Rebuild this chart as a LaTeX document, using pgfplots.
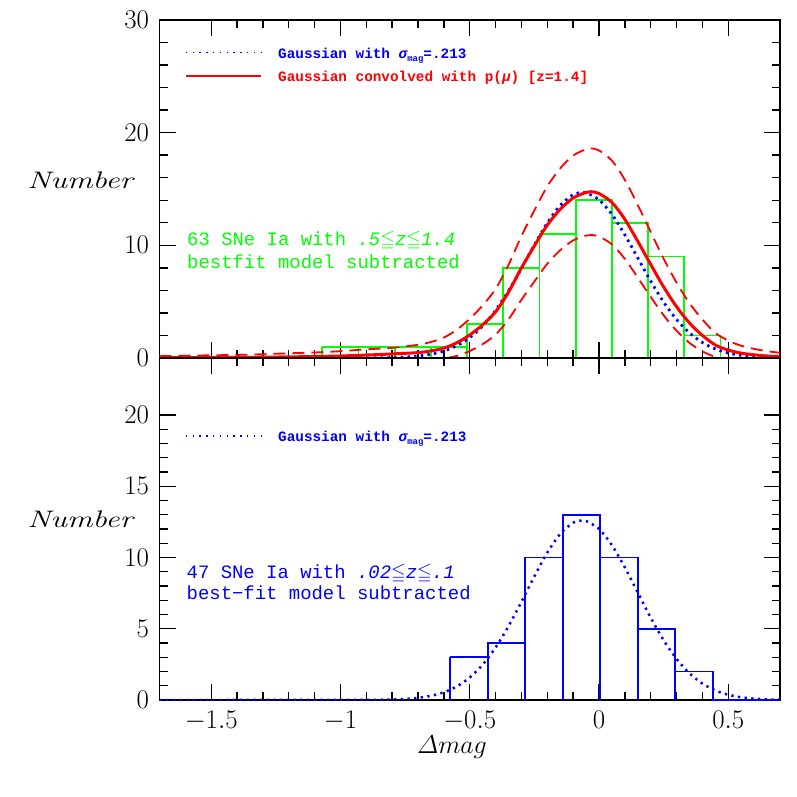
\RequirePackage{fix-cm}
\documentclass[border=0pt]{standalone}
\usepackage{amssymb}
\usepackage{graphicx}
\usepackage{fontspec}
\usepackage{pgfplots}
\pgfplotsset{compat=1.18}
\newfontfamily\smfont{Liberation Mono}
\definecolor{sgreen}{RGB}{0,255,0}
\definecolor{sblue}{RGB}{0,0,255}
\definecolor{sred}{RGB}{255,0,0}

% histogram bins: left edge, count (last row = right edge)
\pgfplotstableread{
x y
-1.07 1
-0.93 1
-0.79 1
-0.65 1
-0.51 3
-0.37 8
-0.23 11
-0.09 14
0.05 12
0.19 9
0.33 2
0.47 0
0.61 0
}\tophist
% bin edges with the taller neighbouring count
\pgfplotstableread{
x y
-1.07 1
-0.93 1
-0.79 1
-0.65 1
-0.51 3
-0.37 8
-0.23 11
-0.09 14
0.05 14
0.19 12
0.33 9
0.47 2
}\topedges

\pgfplotstableread{
x y
-0.575 3
-0.43 4
-0.285 10
-0.14 13
0.005 10
0.15 5
0.295 2
0.44 0
0.70 0
}\bothist
\pgfplotstableread{
x y
-0.575 3
-0.43 4
-0.285 10
-0.14 13
0.005 13
0.15 10
0.295 5
0.44 2
}\botedges

\pgfplotstableread{
x y
-1.70 0
-1.00 0.0009
-0.90 0.0066
-0.85 0.0162
-0.80 0.0376
-0.75 0.0823
-0.70 0.170
-0.65 0.334
-0.60 0.620
-0.55 1.089
-0.50 1.810
-0.45 2.846
-0.40 4.237
-0.35 5.968
-0.30 7.957
-0.25 10.04
-0.20 11.99
-0.15 13.55
-0.10 14.49
-0.064 14.70
-0.05 14.67
0.00 14.05
0.05 12.74
0.10 10.93
0.15 8.875
0.20 6.819
0.25 4.960
0.30 3.414
0.35 2.223
0.40 1.371
0.45 0.799
0.50 0.441
0.55 0.231
0.60 0.114
0.65 0.0533
0.70 0.0236
}\topgauss

\pgfplotstableread{
x f up
-1.70 0.02 0.161
-1.60 0.03 0.203
-1.50 0.04 0.240
-1.40 0.05 0.274
-1.30 0.07 0.335
-1.20 0.10 0.416
-1.10 0.13 0.491
-1.00 0.18 0.604
-0.90 0.26 0.770
-0.80 0.36 0.900
-0.70 0.48 1.173
-0.65 0.63 1.424
-0.60 0.88 1.818
-0.55 1.35 2.512
-0.50 2.05 3.482
-0.45 2.95 4.668
-0.40 4.10 6.125
-0.35 5.85 8.269
-0.30 8.00 10.828
-0.25 9.95 13.104
-0.20 11.80 15.235
-0.15 13.20 16.833
-0.10 14.20 17.968
-0.05 14.70 18.534
-0.03 14.76 18.602
0.00 14.60 18.421
0.05 13.80 17.515
0.10 12.30 15.807
0.15 10.35 13.567
0.20 8.30 11.181
0.25 6.30 8.810
0.30 4.55 6.683
0.35 3.10 4.861
0.40 2.00 3.414
0.45 1.15 2.222
0.50 0.70 1.537
0.55 0.43 1.086
0.60 0.28 0.809
0.65 0.18 0.604
0.70 0.12 0.466
}\conv

\pgfplotstableread{
x lo
-0.59 0
-0.55 0.188
-0.50 0.618
-0.45 1.232
-0.40 2.075
-0.35 3.431
-0.30 5.172
-0.25 6.796
-0.20 8.365
-0.15 9.567
-0.10 10.432
-0.05 10.866
-0.03 10.918
0.00 10.779
0.05 10.085
0.10 8.793
0.15 7.133
0.20 5.419
0.25 3.790
0.30 2.417
0.35 1.339
0.40 0.586
0.45 0.078
0.465 0
}\convlo

\pgfplotstableread{
x y
-1.70 0
-1.00 0.0008
-0.90 0.0059
-0.85 0.0144
-0.80 0.0332
-0.75 0.0726
-0.70 0.150
-0.65 0.294
-0.60 0.544
-0.55 0.953
-0.50 1.580
-0.45 2.481
-0.40 3.686
-0.35 5.180
-0.30 6.891
-0.25 8.676
-0.20 10.34
-0.15 11.66
-0.10 12.44
-0.066 12.60
-0.05 12.56
0.00 12.01
0.05 10.86
0.10 9.300
0.15 7.535
0.20 5.777
0.25 4.192
0.30 2.879
0.35 1.871
0.40 1.151
0.45 0.670
0.50 0.369
0.55 0.192
0.60 0.0949
0.65 0.0443
0.70 0.0196
}\botgauss

\pgfplotsset{
  panel/.style={
    scale only axis, width=620.5bp, anchor=south west,
    xmin=-1.7, xmax=0.7,
    xtick={-1.5,-1,-0.5,0,0.5}, minor x tick num=4,
    minor y tick num=4,
    axis line style={line width=1.7bp, black},
    tick style={line width=1.4bp, black},
    major tick length=16bp, minor tick length=8bp,
    tick label style={font=\fontsize{27}{27}\selectfont},
    yticklabel style={xshift=-7bp},
    xticklabel style={yshift=-8bp},
    legend cell align=left,
    legend image code/.code={\draw[##1] (0bp,0bp) -- (75bp,0bp);},
  },
  leg/.style={
    legend style={at={(axis description cs:0.0411,#1)}, anchor=north west,
      draw=none, fill=none, inner sep=0pt, outer sep=0pt,
      row sep=6.5bp, column sep=16.7bp,
      nodes={inner sep=0pt, text height=14bp, text depth=2.8bp,
        font=\smfont\bfseries\fontsize{14.4}{14.4}\selectfont}},
  },
}
\tikzset{lbl/.style={anchor=base west, inner sep=0pt, font=\smfont\fontsize{19}{19}\selectfont}}

\begin{document}
\begin{tikzpicture}
\useasboundingbox (-159.5bp,-97bp) rectangle (637.5bp,700bp);

% ---------- top panel ----------
\begin{axis}[panel, leg=0.928, at={(0bp,342bp)}, height=338bp,
  ymin=0, ymax=30, ytick={0,10,20,30}, xticklabel=\empty]
  \addlegendimage{sblue, line width=1.5bp, dash pattern=on 1.5bp off 5.3bp}
  \addlegendentry{\textcolor{sblue}{Gaussian with {\itshape σ}\raisebox{-0.4ex}{\fontsize{9}{9}\selectfont mag}=.213}}
  \addlegendimage{sred, line width=1.2bp}
  \addlegendentry{\textcolor{sred}{Gaussian convolved with p({\itshape μ}) [z=1.4]}}

  \addplot[forget plot, const plot mark left, draw=sgreen, line width=1.8bp] table[x=x,y=y] {\tophist};
  \addplot[forget plot, ycomb, draw=sgreen, line width=1.8bp, mark=none] table[x=x,y=y] {\topedges};
  \addplot[forget plot, sblue, line width=2.8bp, dash pattern=on 2.5bp off 4.2bp, smooth] table[x=x,y=y] {\topgauss};
  \addplot[forget plot, sred, line width=1.8bp, dash pattern=on 12bp off 7bp, smooth] table[x=x,y=up] {\conv};
  \addplot[forget plot, sred, line width=1.8bp, dash pattern=on 12bp off 7bp, smooth] table[x=x,y=lo] {\convlo};
  \addplot[forget plot, sred, line width=3bp, smooth] table[x=x,y=f] {\conv};
\end{axis}

% ---------- bottom panel ----------
\begin{axis}[panel, leg=0.796, at={(0bp,0bp)}, height=342bp,
  ymin=0, ymax=24, ytick={0,5,10,15,20}]
  \addlegendimage{sblue, line width=1.5bp, dash pattern=on 1.5bp off 5.3bp}
  \addlegendentry{\textcolor{sblue}{Gaussian with {\itshape σ}\raisebox{-0.4ex}{\fontsize{9}{9}\selectfont mag}=.213}}

  \addplot[forget plot, const plot mark left, draw=sblue, line width=1.8bp] table[x=x,y=y] {\bothist};
  \addplot[forget plot, ycomb, draw=sblue, line width=1.8bp, mark=none] table[x=x,y=y] {\botedges};
  \addplot[forget plot, sblue, line width=2.5bp, dash pattern=on 2.3bp off 4.4bp, smooth] table[x=x,y=y] {\botgauss};
\end{axis}

% ---------- labels ----------
\node[lbl, text=sgreen] at (27.5bp,454bp) {63 SNe Ia with {\itshape .5$\leqq$z$\leqq$1.4}};
\node[lbl, text=sgreen] at (27.5bp,431.7bp) {bestfit model subtracted};
\node[lbl, text=sblue] at (27bp,121.7bp) {47 SNe Ia with {\itshape .02$\leqq$z$\leqq$.1}};
\node[lbl, text=sblue] at (27bp,100bp) {best−fit model subtracted};

\node[anchor=base east, inner sep=0pt, font=\fontsize{24}{24}\selectfont] at (-26.5bp,511.7bp) {\scalebox{1.33}[1]{\itshape Number}};
\node[anchor=base east, inner sep=0pt, font=\fontsize{24}{24}\selectfont] at (-26.5bp,172bp) {\scalebox{1.33}[1]{\itshape Number}};
\node[anchor=base, inner sep=0pt, font=\fontsize{26}{26}\selectfont] at (292.5bp,-53bp) {$\mathnormal{\Delta}mag$};
\end{tikzpicture}
\end{document}
